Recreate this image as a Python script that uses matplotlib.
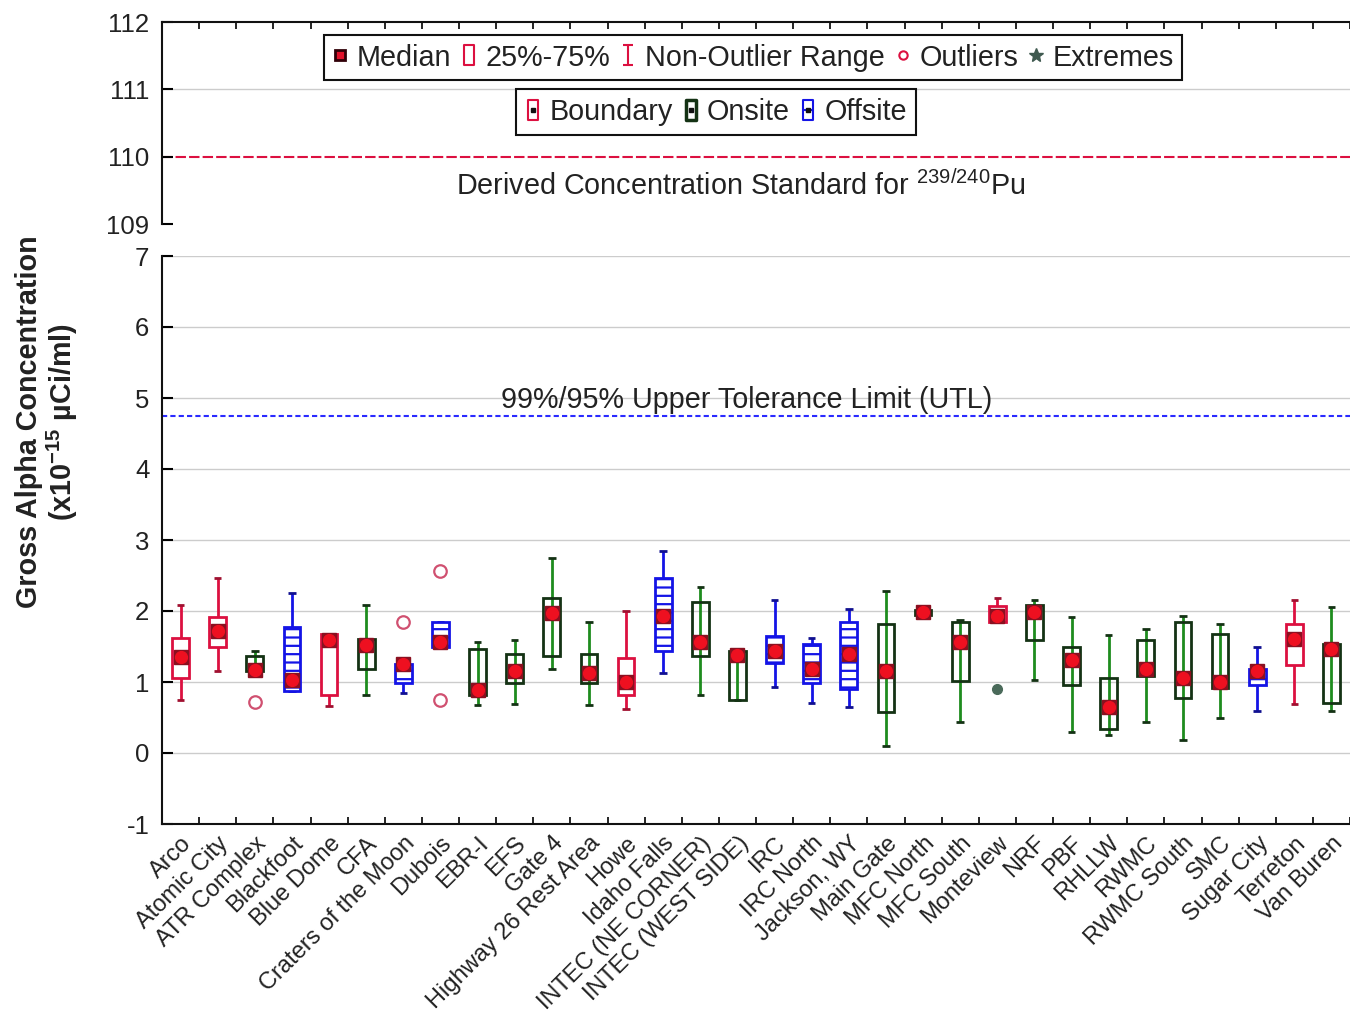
import matplotlib
matplotlib.use('Agg')
import matplotlib.pyplot as plt
from matplotlib.patches import Rectangle
from matplotlib.lines import Line2D
from matplotlib.path import Path

plt.rcParams['font.family'] = ['Liberation Sans', 'DejaVu Sans']
plt.rcParams['mathtext.fontset'] = 'custom'
plt.rcParams['mathtext.rm'] = 'Liberation Sans'
plt.rcParams['mathtext.bf'] = 'Liberation Sans:bold'
plt.rcParams['mathtext.default'] = 'regular'
plt.rcParams['axes.unicode_minus'] = False
plt.rcParams['hatch.linewidth'] = 1.6

# sampling locations and their group
sites = ['Arco', 'Atomic City', 'ATR Complex', 'Blackfoot', 'Blue Dome', 'CFA',
         'Craters of the Moon', 'Dubois', 'EBR-I', 'EFS', 'Gate 4',
         'Highway 26 Rest Area', 'Howe', 'Idaho Falls', 'INTEC (NE CORNER)',
         'INTEC (WEST SIDE)', 'IRC', 'IRC North', 'Jackson, WY', 'Main Gate',
         'MFC North', 'MFC South', 'Monteview', 'NRF', 'PBF', 'RHLLW', 'RWMC',
         'RWMC South', 'SMC', 'Sugar City', 'Terreton', 'Van Buren']
groups = ['B', 'B', 'N', 'F', 'B', 'N', 'F', 'F', 'N', 'N', 'N', 'N', 'B', 'F', 'N',
          'N', 'F', 'F', 'F', 'N', 'N', 'N', 'B', 'N', 'N', 'N', 'N', 'N', 'N', 'F',
          'B', 'N']

# box statistics (x10^-15 uCi/ml)
whis_lo = [0.74, 1.15, 1.15, 0.87, 0.66, 0.81, 0.84, 1.49, 0.68, 0.69, 1.19,
           0.68, 0.62, 1.12, 0.81, 0.74, 0.93, 0.71, 0.65, 0.10, 1.93, 0.43,
           1.84, 1.03, 0.29, 0.25, 0.43, 0.18, 0.50, 0.59, 0.69, 0.59]
q1 = [1.06, 1.49, 1.15, 0.87, 0.81, 1.18, 0.99, 1.49, 0.81, 0.99, 1.37,
      0.99, 0.81, 1.44, 1.37, 0.74, 1.27, 0.99, 0.90, 0.58, 1.94, 1.02,
      1.84, 1.59, 0.96, 0.34, 1.09, 0.78, 0.91, 0.96, 1.24, 0.71]
median = [1.35, 1.72, 1.17, 1.03, 1.59, 1.52, 1.25, 1.57, 0.89, 1.16, 1.97,
          1.13, 1.00, 1.93, 1.56, 1.38, 1.44, 1.19, 1.40, 1.15, 1.98, 1.57,
          1.93, 1.98, 1.31, 0.65, 1.19, 1.06, 1.00, 1.15, 1.61, 1.47]
q3 = [1.62, 1.91, 1.37, 1.78, 1.68, 1.61, 1.25, 1.84, 1.47, 1.40, 2.18,
      1.40, 1.34, 2.46, 2.12, 1.44, 1.65, 1.53, 1.84, 1.81, 2.01, 1.85,
      2.07, 2.09, 1.50, 1.06, 1.59, 1.85, 1.68, 1.19, 1.81, 1.54]
whis_hi = [2.09, 2.47, 1.44, 2.25, 1.68, 2.09, 1.28, 1.84, 1.56, 1.59, 2.74,
           1.84, 2.00, 2.85, 2.34, 1.44, 2.15, 1.62, 2.03, 2.28, 2.02, 1.87,
           2.19, 2.15, 1.91, 1.66, 1.75, 1.93, 1.81, 1.50, 2.15, 2.06]
outliers = {'ATR Complex': [0.72], 'Craters of the Moon': [1.85],
            'Dubois': [2.57, 0.75]}
extremes = {'Monteview': [0.90]}

dcs = 110.0
utl = 4.75

RED = '#dc1040'
GREEN = '#1e8c1e'
DKGREEN = '#143214'
BLUE = '#1414e6'
TXT = '#222222'

styles = {
    'B': dict(whisker=RED, cap='#a01030', edge=RED, face='white', hatch=None),
    'N': dict(whisker=GREEN, cap=DKGREEN, edge=DKGREEN, face='none', hatch=None),
    'F': dict(whisker=BLUE, cap='#101090', edge=BLUE, face='white', hatch='--'),
}

fig = plt.figure(figsize=(13.5, 10.16), dpi=100)
L = 162 / 1350
ax_top = fig.add_axes([L, 1 - 224 / 1016, 1 - L, (224 - 22) / 1016])
ax = fig.add_axes([L, 1 - 824 / 1016, 1 - L, (824 - 256) / 1016])

n = len(sites)
xs = list(range(n))
for a in (ax_top, ax):
    a.set_xlim(-0.5, 31.18)
    a.spines['right'].set_visible(False)
    for s in a.spines.values():
        s.set_linewidth(1.5)
        s.set_color('#111111')
    a.set_xticks([i + 0.5 for i in range(-1, n)], minor=True)
    a.tick_params(axis='y', direction='in', length=8, width=1.5, labelsize=18.5,
                  labelcolor=TXT, pad=9)
    a.tick_params(axis='x', which='minor', direction='in', length=5, width=1.2)
    a.tick_params(axis='x', which='major', length=0)

ax_top.set_ylim(109, 112)
ax_top.set_yticks([109, 110, 111, 112])
ax_top.spines['bottom'].set_visible(False)
ax_top.set_xticks([])
ax_top.set_xticks([i + 0.5 for i in range(-1, n)], minor=True)
ax_top.tick_params(axis='x', which='minor', top=True, bottom=False)
ax_top.axhline(111, color='#cccccc', lw=1, zorder=0)

ax.set_ylim(-1, 7)
ax.set_yticks(range(-1, 8))
ax.spines['top'].set_visible(False)
for v in range(0, 8):
    ax.axhline(v, color='#cccccc', lw=1, zorder=0)
ax.set_xticks(xs)
ax.set_xticklabels(sites, rotation=45, ha='right', va='top', rotation_mode='anchor',
                   fontsize=17, color=TXT)
ax.tick_params(axis='x', which='major', pad=6)

# reference lines
ax_top.axhline(dcs, color=RED, lw=1.5, dashes=(5, 1.5), zorder=1)
ax_top.text(15.1, 109.57, 'Derived Concentration Standard for $^{239/240}$Pu',
            ha='center', va='center', fontsize=20.7, color=TXT)
ax.axhline(utl, color='#2a2aff', lw=1.5, dashes=(2.5, 1.5), zorder=1)
ax.text(15.25, 4.97, '99%/95% Upper Tolerance Limit (UTL)', ha='center',
        va='center', fontsize=20.7, color=TXT)

# box plots
w = 0.45
for i, site in enumerate(sites):
    st = styles[groups[i]]
    ax.vlines(i, whis_lo[i], whis_hi[i], color=st['whisker'], lw=2, zorder=2)
    ax.hlines([whis_lo[i], whis_hi[i]], i - 0.1, i + 0.1, color=st['cap'], lw=2, zorder=2)
    box = Rectangle((i - w / 2, q1[i]), w, q3[i] - q1[i], facecolor=st['face'],
                    edgecolor=st['edge'], lw=2, hatch=st['hatch'], zorder=3)
    ax.add_patch(box)
    ax.plot(i, median[i], marker='s', ms=10, color='#8a1020', ls='none', zorder=4)
    ax.plot(i, median[i], marker='o', ms=8.5, color='#ee1020', mec='#ee1020', ls='none', zorder=5)
    if site in outliers:
        ax.plot([i] * len(outliers[site]), outliers[site], 'o', ms=9, mfc='none',
                mec='#d05070', mew=1.6, zorder=4)
    if site in extremes:
        ax.plot([i] * len(extremes[site]), extremes[site], 'o', ms=7,
                color='#4a6a5a', zorder=4)

# legends
rect = Path([(-0.55, -1), (0.55, -1), (0.55, 1), (-0.55, 1), (-0.55, -1)],
            [Path.MOVETO, Path.LINETO, Path.LINETO, Path.LINETO, Path.CLOSEPOLY])
ibar = Path([(-0.5, 1), (0.5, 1), (0, 1), (0, -1), (-0.5, -1), (0.5, -1)],
            [Path.MOVETO, Path.LINETO, Path.MOVETO, Path.LINETO, Path.MOVETO, Path.LINETO])
h1 = [
    Line2D([], [], marker='s', ms=7, mfc='#e0102a', mec='#300008', mew=2, ls='none'),
    Line2D([], [], marker=rect, ms=14, mfc='none', mec=RED, mew=1.5, ls='none'),
    Line2D([], [], marker=ibar, ms=14, mfc='none', mec=RED, mew=1.5, ls='none'),
    Line2D([], [], marker='o', ms=6, mfc='none', mec=RED, mew=1.5, ls='none'),
    Line2D([], [], marker='*', ms=10, color='#405a50', ls='none'),
]
l1 = ['Median', '25%-75%', 'Non-Outlier Range', 'Outliers', 'Extremes']
lkw = dict(prop={'size': 20.7}, frameon=True, fancybox=False, framealpha=1,
           edgecolor='#111111', borderpad=0.3, borderaxespad=0, handlelength=0.55,
           handletextpad=0.3, columnspacing=0.35, labelcolor=TXT,
           bbox_transform=fig.transFigure, loc='center')
leg1 = ax_top.legend(h1, l1, ncol=5, bbox_to_anchor=(753 / 1350, 1 - 57.5 / 1016), **lkw)
leg1.get_frame().set_linewidth(1.5)
ax_top.add_artist(leg1)

dot = dict(marker='s', ms=3, color='#111111', ls='none')
h2 = [
    (Line2D([], [], marker=rect, ms=14, mfc='none', mec=RED, mew=1.5, ls='none'),
     Line2D([], [], **dot)),
    (Line2D([], [], marker=rect, ms=14, mfc='none', mec=DKGREEN, mew=2.5, ls='none'),
     Line2D([], [], **dot)),
    (Line2D([], [], marker=rect, ms=14, mfc='none', mec=BLUE, mew=1.5, ls='none'),
     Line2D([], [], marker='_', ms=9, mew=1.5, color=BLUE, ls='none'),
     Line2D([], [], **dot)),
]
l2 = ['Boundary', 'Onsite', 'Offsite']
leg2 = ax_top.legend(h2, l2, ncol=3, bbox_to_anchor=(716 / 1350, 1 - 112 / 1016), **lkw)
leg2.get_frame().set_linewidth(1.5)

fig.text(0.035, 0.585, 'Gross Alpha Concentration\n(x10$^{\\mathbf{-15}}$ µCi/ml)',
         rotation=90, ha='center', va='center', multialignment='center',
         fontsize=20.7, fontweight='bold', color=TXT, linespacing=1.05)

fig.savefig('out.png', dpi=100)
